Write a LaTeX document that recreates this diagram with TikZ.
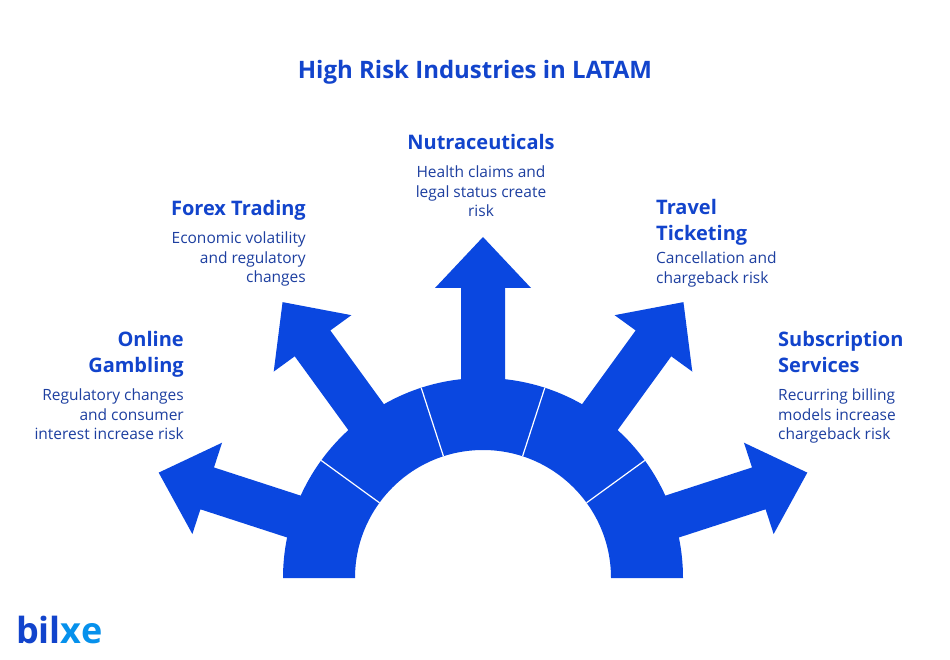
\documentclass[tikz,border=0pt]{standalone}
\usepackage{fontspec}
\usetikzlibrary{calc}
\setmainfont{Open Sans}
\definecolor{ablue}{HTML}{0A47E0}
\definecolor{tblue}{HTML}{1244CC}
\definecolor{bblue}{HTML}{1D3FA0}
\tikzset{
  head/.style={font=\fontsize{20}{24}\selectfont\bfseries, text=tblue, inner sep=0pt},
  body/.style={font=\fontsize{15.5}{19.5}\selectfont, text=bblue, inner sep=0pt},
  arrowshape/.style={fill=ablue, draw=none}
}
\begin{document}
\begin{tikzpicture}[x=1pt,y=-1pt]
\useasboundingbox (0,0) rectangle (950,660);
\fill[white] (0,0) rectangle (950,660);
\coordinate (c) at (483,578);
% arrows
\foreach \a in {18,54,90,126,162}{
  \begin{scope}[shift={(c)}, rotate=\a]
    \fill[arrowshape] (150,-22) -- (290,-22) -- (290,-48) -- (341,0) -- (290,48) -- (290,22) -- (150,22) -- cycle;
  \end{scope}
}
% ring
\fill[ablue] ($(c)+(200,0)$) arc[start angle=0,end angle=-180,radius=200] -- ($(c)+(-128,0)$) arc[start angle=180,end angle=360,radius=128] -- cycle;
\foreach \a in {36,72,108,144}{
  \draw[white, line width=1.2pt] ($(c)+({128*cos(\a)},{-128*sin(\a)})$) -- ($(c)+({200*cos(\a)},{-200*sin(\a)})$);
}
% title
\node[head, font=\fontsize{24}{28}\selectfont\bfseries] (title) at (475,72) {High Risk Industries in LATAM};
% Nutraceuticals
\node[head] (nh) at (481,142) {Nutraceuticals};
\node[body, align=center, anchor=north] (nb) at (481,166) {Health claims and\\legal status create\\risk};
% Forex
\node[head, anchor=east] (fh) at (306,210) {Forex Trading};
\node[body, align=right, anchor=north east] (fb) at (306,232) {Economic volatility\\and regulatory\\changes};
% Online gambling
\node[head, align=right, anchor=north east, font=\fontsize{20}{26}\selectfont\bfseries] (gh) at (184,331) {Online\\Gambling};
\node[body, align=right, anchor=north east] (gb) at (184,389) {Regulatory changes\\and consumer\\interest increase risk};
% Travel
\node[head, align=left, anchor=north west, font=\fontsize{20}{26}\selectfont\bfseries] (th) at (656,199) {Travel\\Ticketing};
\node[body, align=left, anchor=north west] (tb) at (656,252) {Cancellation and\\chargeback risk};
% Subscription
\node[head, align=left, anchor=north west, font=\fontsize{20}{26}\selectfont\bfseries] (sh) at (778,331) {Subscription\\Services};
\node[body, align=left, anchor=north west] (sb) at (778,389) {Recurring billing\\models increase\\chargeback risk};
% logo
\node[inner sep=0pt, anchor=west, font=\fontsize{36}{36}\selectfont\bfseries] (logo) at (16,630) {\textcolor{tblue}{bil}\textcolor{ablue!60!cyan}{xe}};
\end{tikzpicture}
\end{document}
